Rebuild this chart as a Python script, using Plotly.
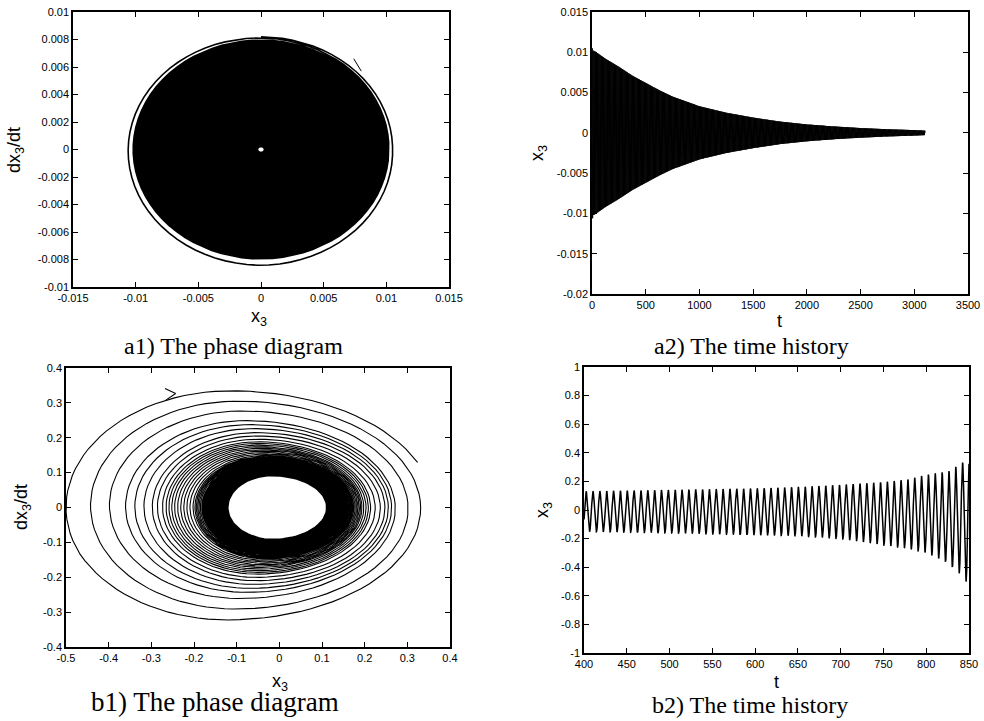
import numpy as np
import plotly.graph_objects as go

# ---------------- data ----------------
# (a) decaying response: amplitude envelope of x3 read from panels a1 / a2
a_env_t = [0, 2, 4, 6, 8, 10, 16, 40, 125, 250, 375, 500, 625, 750, 875, 1000,
           1125, 1250, 1375, 1500, 1750, 2000, 2250, 2500, 2750, 3000, 3100]
a_env_amp = [0.0105, 0.0105, 0.0108, 0.0106, 0.0104, 0.0102, 0.0102, 0.0100,
             0.0092, 0.0082, 0.0071, 0.0062, 0.0053, 0.0045, 0.0039, 0.0033,
             0.0029, 0.0025, 0.0022, 0.0019, 0.0014, 0.00105, 0.0008, 0.0006,
             0.00045, 0.00034, 0.00028]
a_period = 8.0          # oscillation period
a_rate_ratio = 0.78     # |dx3/dt| amplitude / |x3| amplitude (panel a1)
a_first_peak = 2.0

b_env_t = [204.9, 300, 400, 500, 600, 650, 700, 750, 780, 800, 815, 826,
           834, 842, 846, 850]
b_env_upper = [0.110, 0.120, 0.130, 0.140, 0.150, 0.160, 0.175, 0.195, 0.215,
               0.245, 0.260, 0.270, 0.300, 0.330, 0.340, 0.360]
b_env_lower = [-0.120, -0.135, -0.150, -0.160, -0.175, -0.180, -0.200, -0.245,
               -0.270, -0.300, -0.340, -0.370, -0.420, -0.460, -0.500, -0.500]
b_period = 8.0
b_rate_ratio = 0.785
b_peak_ref = 842.5
b_top_share = 0.55      # top/bottom of each loop sit 55 % of the way from the right extent
b2_window = [400, 850]

# tick labels
a1_xticks = [-0.015, -0.01, -0.005, 0, 0.005, 0.01, 0.015]
a1_xtext = ["-0.015", "-0.01", "-0.005", "0", "0.005", "0.01", "0.015"]
a1_yticks = [-0.01, -0.008, -0.006, -0.004, -0.002, 0, 0.002, 0.004, 0.006, 0.008, 0.01]
a1_ytext = ["-0.01", "-0.008", "-0.006", "-0.004", "-0.002", "0", "0.002",
            "0.004", "0.006", "0.008", "0.01"]
a2_xticks = [0, 500, 1000, 1500, 2000, 2500, 3000, 3500]
a2_yticks = [-0.02, -0.015, -0.01, -0.005, 0, 0.005, 0.01, 0.015]
a2_ytext = ["-0.02", "-0.015", "-0.01", "-0.005", "0", "0.005", "0.01", "0.015"]
b1_xticks = [-0.5, -0.4, -0.3, -0.2, -0.1, 0, 0.1, 0.2, 0.3, 0.4]
b1_xtext = ["-0.5", "-0.4", "-0.3", "-0.2", "-0.1", "0", "0.1", "0.2", "0.3", "0.4"]
b1_yticks = [-0.4, -0.3, -0.2, -0.1, 0, 0.1, 0.2, 0.3, 0.4]
b1_ytext = ["-0.4", "-0.3", "-0.2", "-0.1", "0", "0.1", "0.2", "0.3", "0.4"]
b2_xticks = [400, 450, 500, 550, 600, 650, 700, 750, 800, 850]
b2_yticks = [-1, -0.8, -0.6, -0.4, -0.2, 0, 0.2, 0.4, 0.6, 0.8, 1]
b2_ytext = ["-1", "-0.8", "-0.6", "-0.4", "-0.2", "0", "0.2", "0.4", "0.6", "0.8", "1"]

captions = ["a1) The phase diagram", "a2) The time history",
            "b1) The phase diagram", "b2) The time history"]

# ---------------- build trajectories ----------------
ta = np.linspace(a_env_t[0], a_env_t[-1], 30000)
wa = np.interp(ta, a_env_t, a_env_amp)
tha = 2 * np.pi * (ta - a_first_peak) / a_period
xa = wa * np.cos(tha)
va = -a_rate_ratio * wa * np.sin(tha)

tb = np.linspace(b_env_t[0], b_env_t[-1], 8000)
up = np.interp(tb, b_env_t, b_env_upper)
lo = np.interp(tb, b_env_t, b_env_lower)
ctop = up - b_top_share * (up - lo)
wv = (up - lo) / 2
thb = 2 * np.pi * (tb - b_peak_ref) / b_period
cth = np.cos(thb)
xb = np.where(cth >= 0, ctop + (up - ctop) * cth, ctop + (ctop - lo) * cth)
vb = -b_rate_ratio * wv * np.sin(thb)
mask2 = tb >= b2_window[0]

fig = go.Figure()
fig.add_trace(go.Scatter(x=xa, y=va, mode="lines", line=dict(color="black", width=1.6),
                         xaxis="x", yaxis="y", hoverinfo="skip"))
fig.add_trace(go.Scatter(x=ta, y=xa, mode="lines", line=dict(color="black", width=1),
                         xaxis="x2", yaxis="y2", hoverinfo="skip"))
fig.add_trace(go.Scatter(x=xb, y=vb, mode="lines", line=dict(color="black", width=1.1),
                         xaxis="x3", yaxis="y3", hoverinfo="skip"))
fig.add_trace(go.Scatter(x=tb[mask2], y=xb[mask2], mode="lines",
                         line=dict(color="black", width=1.5),
                         xaxis="x4", yaxis="y4", hoverinfo="skip"))

W, H = 984, 721
def fx(px):
    return px / W
def fy(py):
    return 1 - py / H

tickfont = dict(family="Liberation Sans, Arial, sans-serif", size=11, color="black")
def ax(domain, rng, tv, tt=None, anchor=None):
    d = dict(domain=domain, range=rng, tickvals=tv, ticks="inside", ticklen=5,
             tickwidth=1, tickcolor="black", showline=True, linecolor="black",
             linewidth=1.5, mirror="allticks", showgrid=False, zeroline=False,
             tickfont=tickfont, anchor=anchor, fixedrange=True, automargin=False)
    if tt is not None:
        d["ticktext"] = tt
    return d

fig.update_layout(
    width=W, height=H, margin=dict(l=0, r=0, t=0, b=0, autoexpand=False),
    paper_bgcolor="white", plot_bgcolor="white", showlegend=False,
    xaxis=ax([fx(73), fx(449)], [-0.015, 0.015], a1_xticks, a1_xtext, "y"),
    yaxis=ax([fy(287), fy(12)], [-0.01, 0.01], a1_yticks, a1_ytext, "x"),
    xaxis2=ax([fx(592), fx(968)], [0, 3500], a2_xticks, None, "y2"),
    yaxis2=ax([fy(294), fy(12)], [-0.02, 0.015], a2_yticks, a2_ytext, "x2"),
    xaxis3=ax([fx(66), fx(450)], [-0.5, 0.4], b1_xticks, b1_xtext, "y3"),
    yaxis3=ax([fy(647), fy(368)], [-0.4, 0.4], b1_yticks, b1_ytext, "x3"),
    xaxis4=ax([fx(584), fx(969)], [400, 850], b2_xticks, None, "y4"),
    yaxis4=ax([fy(653), fy(367)], [-1, 1], b2_yticks, b2_ytext, "x4"),
)

# direction arrows on the phase diagrams
fig.add_shape(type="line", xref="x", yref="y", x0=0.0074, y0=0.0066, x1=0.0080, y1=0.0057,
              line=dict(color="black", width=1))
fig.add_shape(type="line", xref="x3", yref="y3", x0=-0.268, y0=0.341, x1=-0.243, y1=0.327,
              line=dict(color="black", width=1.1))
fig.add_shape(type="line", xref="x3", yref="y3", x0=-0.266, y0=0.308, x1=-0.243, y1=0.327,
              line=dict(color="black", width=1.1))

titlefont = dict(family="Liberation Sans, Arial, sans-serif", size=18, color="black")
def note(text, px, py, font, angle=0):
    fig.add_annotation(text=text, x=fx(px), y=fy(py), xref="paper", yref="paper",
                       showarrow=False, xanchor="center", yanchor="middle",
                       textangle=angle, font=font)

note("x<sub>3</sub>", 259, 317, titlefont)
note("dx<sub>3</sub>/dt", 15, 150, titlefont, -90)
note("t", 779, 321, titlefont)
note("x<sub>3</sub>", 538, 153, titlefont, -90)
note("x<sub>3</sub>", 280, 682, titlefont)
note("dx<sub>3</sub>/dt", 22, 507, titlefont, -90)
note("t", 776, 682, titlefont)
note("x<sub>3</sub>", 543, 510, titlefont, -90)

capfont = dict(family="Liberation Serif, Times New Roman, serif", size=24, color="black")
capfont_b1 = dict(family="Liberation Serif, Times New Roman, serif", size=27, color="black")
note(captions[0], 233, 346, capfont)
note(captions[1], 751, 346, capfont)
note(captions[2], 215, 702, capfont_b1)
note(captions[3], 750, 705, capfont)

fig.write_html("out.html")
